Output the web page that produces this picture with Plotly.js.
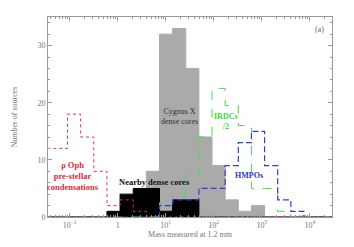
<!DOCTYPE html>
<html>
<head>
<meta charset="utf-8">
<script src="https://cdn.plot.ly/plotly-3.0.1.min.js"></script>
<style>html,body{margin:0;padding:0;background:#fff;}#chart{width:354px;height:247px;}</style>
</head>
<body>
<div id="chart"></div>
<script>
// Bin edges (mass at 1.2 mm), log-spaced histogram bins
var binEdges = [0.02563, 0.0481, 0.0903, 0.1695, 0.3182, 0.5973, 1.121, 2.105, 3.951, 7.416,
  13.92, 26.14, 49.06, 92.1, 172.9, 324.5, 609.2, 1144, 2146, 4029, 7562, 14200, 26650, 50030];

// Counts per bin
var rhoOph   = [12, 12, 18, 14, 8, 2, 3, 1, 0, 0, 0, 0, 0, 0, 0, 0, 0, 0, 0, 0, 0, 0, 0];
var nearby   = [0, 0, 0, 0, 0, 1, 4, 5, 5, 1, 3, 3, 0, 0, 0, 0, 0, 0, 0, 0, 0, 0, 0];
var cygnusX  = [0, 0, 0, 0, 0, 0, 0, 0, 8, 32, 33, 26, 14, 9, 3, 1, 2, 0, 0, 0, 0, 0, 0];
var irdcsHalf= [0, 0, 0, 0, 0, 0, 0, 0, 0, 2.5, 3.5, 7.5, 14, 22.5, 19.5, 16, 5, 5, 1, 0, 0, 0, 0];
var hmpos    = [0, 0, 0, 0, 0, 0, 0, 0, 0, 2, 3, 3, 5, 5, 9, 13, 15, 9, 3, 1, 0, 0, 0];

var xTickVals = [0.1, 1, 10, 100, 1000, 10000];
var xTickText = ['10<sup>\u22121</sup>', '1', '10<sup>1</sup>', '10<sup>2</sup>', '10<sup>3</sup>', '10<sup>4</sup>'];
var yTickVals = [0, 10, 20, 30];

function stepY(c) { return c.concat([c[c.length - 1]]); }

var serif = 'Liberation Serif, DejaVu Serif, serif';
var axisCol = '#999';

var traces = [
  {x: binEdges, y: stepY(cygnusX), type: 'scatter', mode: 'lines', line: {shape: 'hv', color: '#aaaaaa', width: 1}, fill: 'tozeroy', fillcolor: '#aaaaaa', hoverinfo: 'skip'},
  {x: binEdges, y: stepY(nearby), type: 'scatter', mode: 'lines', line: {shape: 'hv', color: '#000', width: 1}, fill: 'tozeroy', fillcolor: '#000', hoverinfo: 'skip'},
  {x: binEdges, y: stepY(rhoOph), type: 'scatter', mode: 'lines', line: {shape: 'hv', color: '#e0304a', width: 1, dash: 'dot'}, hoverinfo: 'skip'},
  {x: binEdges, y: stepY(irdcsHalf), type: 'scatter', mode: 'lines', line: {shape: 'hv', color: '#44dd44', width: 1, dash: 'dash'}, hoverinfo: 'skip'},
  {x: binEdges, y: stepY(hmpos), type: 'scatter', mode: 'lines', line: {shape: 'hv', color: '#3a3acc', width: 1.2, dash: '6px,3px'}, hoverinfo: 'skip'}
];

function ann(text, x, y, color, bold, size) {
  return {text: bold ? '<b>' + text + '</b>' : text, x: x, y: y, xref: 'paper', yref: 'paper',
    showarrow: false, xanchor: 'center', yanchor: 'middle', font: {family: serif, size: size || 8, color: color}};
}

var layout = {
  width: 354, height: 247,
  margin: {l: 48, r: 22, t: 17, b: 30},
  paper_bgcolor: '#fff', plot_bgcolor: '#fff',
  showlegend: false,
  font: {family: serif, size: 8, color: '#777'},
  xaxis: {
    type: 'log', range: [-1.451, 4.462],
    tickmode: 'array', tickvals: xTickVals, ticktext: xTickText,
    ticks: 'inside', ticklen: 4, tickcolor: axisCol, tickwidth: 1,
    minor: {ticks: 'inside', ticklen: 2, tickcolor: axisCol, dtick: 'D1', showgrid: false},
    showline: true, linecolor: axisCol, linewidth: 1, mirror: 'allticks',
    showgrid: false, zeroline: false,
    tickfont: {family: serif, size: 8, color: '#777'},
    title: {text: 'Mass measured at 1.2 mm', font: {family: serif, size: 8, color: '#777'}, standoff: 1}
  },
  yaxis: {
    range: [0, 35],
    tickmode: 'array', tickvals: yTickVals,
    ticks: 'inside', ticklen: 4, tickcolor: axisCol,
    minor: {ticks: 'inside', ticklen: 2, tickcolor: axisCol, dtick: 2, showgrid: false},
    showline: true, linecolor: axisCol, linewidth: 1, mirror: 'allticks',
    showgrid: false, zeroline: false,
    tickfont: {family: serif, size: 8, color: '#777'},
    title: {text: 'Number of sources', font: {family: serif, size: 8, color: '#777'}, standoff: 18}
  },
  annotations: [
    ann('\u03C1 Oph<br>pre-stellar<br>condensations', 0.089, 0.2065, '#dd2a3a', true, 8.5),
    ann('Nearby dense cores', 0.374, 0.173, '#111', true, 8.5),
    ann('Cygnus X<br>dense cores', 0.462, 0.505, '#333', false, 8),
    ann('IRDCs<br>/2', 0.625, 0.4765, '#33dd33', true, 8),
    ann('HMPOs', 0.708, 0.2065, '#3333cc', true, 8),
    ann('(a)', 0.956, 0.94, '#666', false, 8)
  ]
};

Plotly.newPlot('chart', traces, layout, {displayModeBar: false, staticPlot: true});
</script>
</body>
</html>
